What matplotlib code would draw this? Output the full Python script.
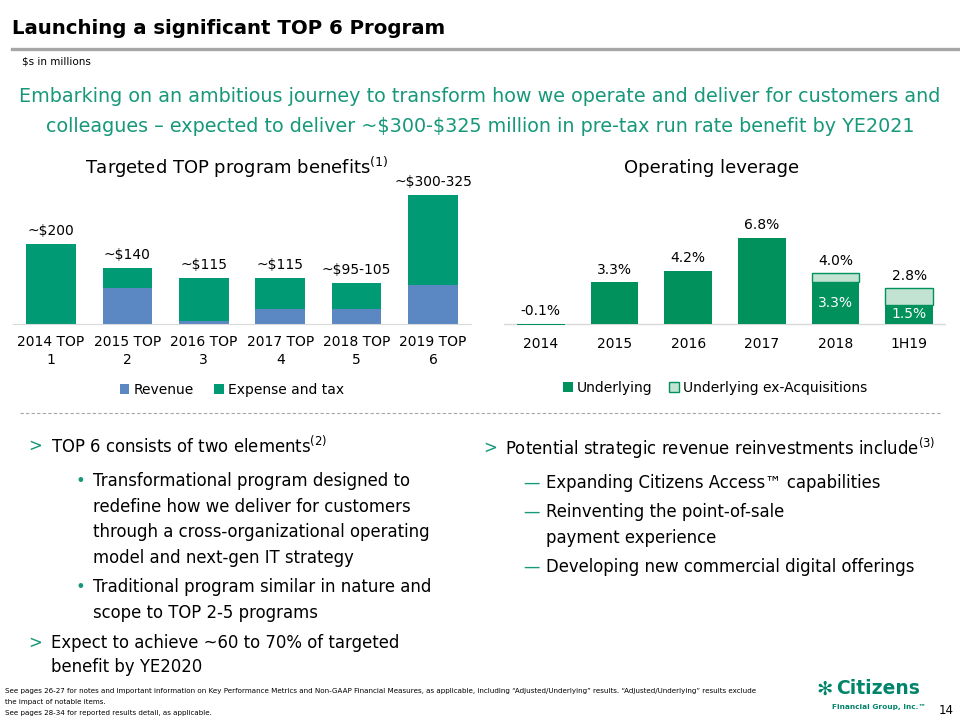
import matplotlib
matplotlib.use('Agg')
import matplotlib.pyplot as plt
from matplotlib.lines import Line2D
import numpy as np

plt.rcParams['font.family'] = ['DejaVu Sans']

# 数据
top_cats = ['2014 TOP\n1', '2015 TOP\n2', '2016 TOP\n3', '2017 TOP\n4', '2018 TOP\n5', '2019 TOP\n6']
revenue = [0, 90, 8, 38, 38, 98]
expense_tax = [200, 50, 107, 77, 65, 225]
top_labels = ['~$200', '~$140', '~$115', '~$115', '~$95-105', '~$300-325']

lev_cats = ['2014', '2015', '2016', '2017', '2018', '1H19']
underlying = [-0.1, 3.3, 4.2, 6.8, 3.3, 1.5]
ex_acq_total = [np.nan, np.nan, np.nan, np.nan, 4.0, 2.8]

GREEN = '#009B74'
DGREEN = '#00915D'
LGREEN = '#C2E2D2'
BLUE = '#5B87C2'
TEAL = '#17987A'


def fx(x):
    return x / 960


def fy(y):
    return 1 - y / 720


fig = plt.figure(figsize=(9.6, 7.2), dpi=100)

# 标题
fig.text(fx(12), fy(29), 'Launching a significant TOP 6 Program', fontsize=14.2, fontweight='bold',
         va='center', ha='left')
fig.add_artist(Line2D([fx(12), fx(960)], [fy(49), fy(49)], color='#A6A6A6', lw=2.4))
fig.text(fx(22), fy(62), '$s in millions', fontsize=7.5, va='center')
fig.text(0.5, fy(97), 'Embarking on an ambitious journey to transform how we operate and deliver for customers and',
         fontsize=13.8, color=TEAL, ha='center', va='center')
fig.text(0.5, fy(127), r'colleagues – expected to deliver ~\$300-\$325 million in pre-tax run rate benefit by YE2021',
         fontsize=13.8, color=TEAL, ha='center', va='center')

# 左图
ax1 = fig.add_axes([fx(12.8), fy(324), fx(458.4), 144 / 720])
x = np.arange(len(top_cats))
ax1.bar(x, revenue, width=0.65, color=BLUE, label='Revenue')
ax1.bar(x, expense_tax, width=0.65, bottom=revenue, color=GREEN, label='Expense and tax')
totals = np.array(revenue) + np.array(expense_tax)
for i, t in enumerate(totals):
    ax1.annotate(top_labels[i], (x[i], t), xytext=(0, 4), textcoords='offset points',
                 ha='center', va='bottom', fontsize=10)
ax1.set_xlim(-0.5, len(top_cats) - 0.5)
ax1.set_ylim(0, 360)
ax1.set_xticks(x)
ax1.set_xticklabels(top_cats, fontsize=10, linespacing=1.35)
ax1.tick_params(axis='x', length=0, pad=8)
ax1.set_yticks([])
for s in ['top', 'left', 'right']:
    ax1.spines[s].set_visible(False)
ax1.spines['bottom'].set_color('#D9D9D9')
ax1.legend(loc='center', bbox_to_anchor=(fx(232), fy(390)), bbox_transform=fig.transFigure, ncol=2,
           frameon=False, fontsize=10, handlelength=0.7, handleheight=0.7, handletextpad=0.3,
           columnspacing=1.5)
fig.text(fx(237), fy(167), 'Targeted TOP program benefits$^{(1)}$', fontsize=13, ha='center', va='center')

# 右图
ax2 = fig.add_axes([fx(504), fy(331.6), fx(442), 8.8 * 12.7 / 720])
x2 = np.arange(len(lev_cats))
ax2.bar(x2, underlying, width=0.65, color=DGREEN, label='Underlying')
extra = np.array(ex_acq_total) - np.array(underlying)
ax2.bar(x2, extra, width=0.65, bottom=underlying, color=LGREEN, edgecolor=DGREEN, lw=1,
        label='Underlying ex-Acquisitions')
for i, v in enumerate(underlying):
    if np.isnan(ex_acq_total[i]):
        ax2.annotate('%.1f%%' % v, (x2[i], max(v, 0)), xytext=(0, 4), textcoords='offset points',
                     ha='center', va='bottom', fontsize=10)
    else:
        ax2.annotate('%.1f%%' % ex_acq_total[i], (x2[i], ex_acq_total[i]), xytext=(0, 4),
                     textcoords='offset points', ha='center', va='bottom', fontsize=10)
        ax2.text(x2[i], v / 2, '%.1f%%' % v, ha='center', va='center', fontsize=10, color='white')
ax2.axhline(0, color='#D9D9D9', lw=1, zorder=0)
ax2.set_xlim(-0.5, len(lev_cats) - 0.5)
ax2.set_ylim(-0.6, 8.2)
ax2.set_xticks(x2)
ax2.set_xticklabels(lev_cats, fontsize=10)
ax2.tick_params(axis='x', length=0, pad=4)
ax2.set_yticks([])
for s in ax2.spines.values():
    s.set_visible(False)
ax2.legend(loc='center', bbox_to_anchor=(fx(715), fy(388)), bbox_transform=fig.transFigure, ncol=2,
           frameon=False, fontsize=10, handlelength=0.7, handleheight=0.7, handletextpad=0.3,
           columnspacing=1.2)
fig.text(fx(712), fy(168), 'Operating leverage', fontsize=13, ha='center', va='center')

# 分隔线
fig.add_artist(Line2D([fx(20), fx(940)], [fy(413), fy(413)], color='#A6A6A6', lw=0.8, ls=(0, (3, 2))))

# 左侧要点
bs = 11.9
fig.text(fx(28), fy(446), '>', color=TEAL, fontsize=bs, va='center')
fig.text(fx(51), fy(446), 'TOP 6 consists of two elements$^{(2)}$', fontsize=bs, va='center')
fig.text(fx(76), fy(481), '•', color=TEAL, fontsize=bs, va='center')
left_lines = [(93, 481, 'Transformational program designed to'),
              (93, 507, 'redefine how we deliver for customers'),
              (93, 532, 'through a cross-organizational operating'),
              (93, 558, 'model and next-gen IT strategy'),
              (93, 587, 'Traditional program similar in nature and'),
              (93, 613, 'scope to TOP 2-5 programs'),
              (51, 643, 'Expect to achieve ~60 to 70% of targeted'),
              (51, 667, 'benefit by YE2020')]
for lx, ly, t in left_lines:
    fig.text(fx(lx), fy(ly), t, fontsize=bs, va='center')
fig.text(fx(76), fy(587), '•', color=TEAL, fontsize=bs, va='center')
fig.text(fx(28), fy(643), '>', color=TEAL, fontsize=bs, va='center')

# 右侧要点
fig.text(fx(483), fy(448), '>', color=TEAL, fontsize=bs, va='center')
fig.text(fx(505), fy(448), 'Potential strategic revenue reinvestments include$^{(3)}$', fontsize=bs, va='center')
right_lines = [(483, 'Expanding Citizens Access™ capabilities', True),
               (512, 'Reinventing the point-of-sale', True),
               (538, 'payment experience', False),
               (567, 'Developing new commercial digital offerings', True)]
for ly, t, dash in right_lines:
    if dash:
        fig.text(fx(523), fy(ly), '—', color=TEAL, fontsize=bs, va='center')
    fig.text(fx(546), fy(ly), t, fontsize=bs, va='center')

# 脚注
foot = ['See pages 26-27 for notes and important information on Key Performance Metrics and Non-GAAP Financial Measures, '
        'as applicable, including “Adjusted/Underlying” results. “Adjusted/Underlying” results exclude',
        'the impact of notable items.',
        'See pages 28-34 for reported results detail, as applicable.']
for i, t in enumerate(foot):
    fig.text(fx(5), fy(691 + 11 * i), t, fontsize=5.15, va='center')

# 标志
fig.text(fx(816), fy(689), '✻', color='#00856A', fontsize=14, fontweight='bold', va='center')
fig.text(fx(836), fy(689), 'Citizens', color='#00856A', fontsize=13.5, fontweight='bold', va='center')
fig.text(fx(926), fy(707), 'Financial Group, Inc.™', color='#00856A', fontsize=5.3, fontweight='bold',
         ha='right', va='center')
fig.text(fx(946), fy(711), '14', fontsize=8.5, ha='center', va='center')

plt.savefig('out.png', dpi=100)
